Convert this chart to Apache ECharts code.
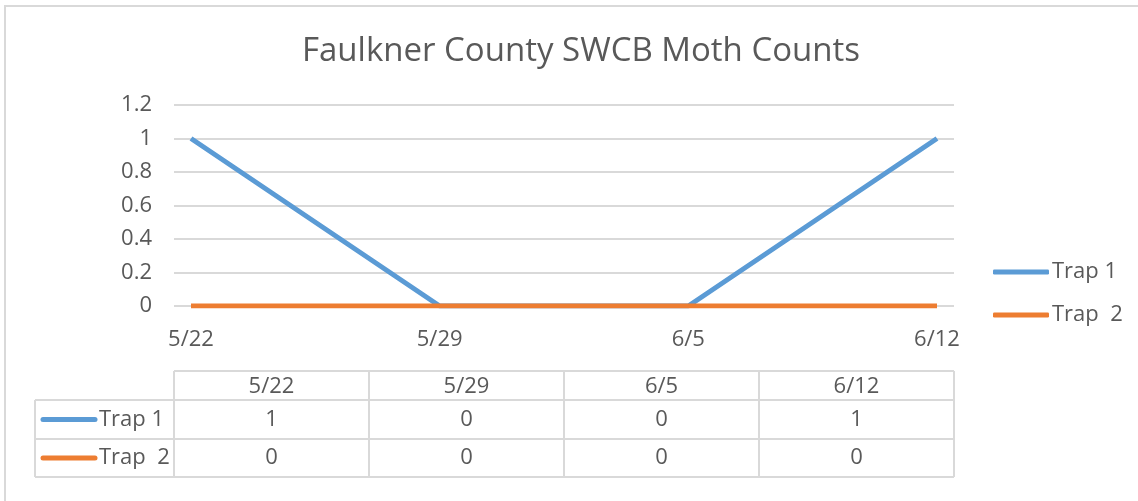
<!DOCTYPE html>
<html>
<head>
<meta charset="utf-8">
<script src="https://cdn.jsdelivr.net/npm/echarts@6/dist/echarts.min.js"></script>
<style>
html,body{margin:0;padding:0;background:#fff;}
#chart{width:1138px;height:501px;}
</style>
</head>
<body>
<div id="chart"></div>
<script>
var title = 'Faulkner County SWCB Moth Counts';
var categories = ['5/22', '5/29', '6/5', '6/12'];
var seriesNames = ['Trap 1', 'Trap  2'];
var trap1 = [1, 0, 0, 1];
var trap2 = [0, 0, 0, 0];
var colors = ['#5b9bd5', '#ed7d31'];

var FONT = 'Open Sans';
var TXT = '#595959';
var GRIDC = '#d9d9d9';
var FS = 22;

var chart = echarts.init(document.getElementById('chart'));

var seriesData = [trap1, trap2];
var tLeft = 35, tColL = 174, tRight = 954, colW = (tRight - tColL) / categories.length;
var rowY = [371, 400, 439, 477];
var g = [];
function line(x1, y1, x2, y2) {
  g.push({type: 'line', shape: {x1: x1, y1: y1, x2: x2, y2: y2}, style: {stroke: GRIDC, lineWidth: 2}, silent: true});
}
g.push({type: 'rect', shape: {x: 5, y: 6, width: 1140, height: 500}, style: {fill: null, stroke: GRIDC, lineWidth: 2}, silent: true});
line(tColL, rowY[0], tRight, rowY[0]);
for (var r = 1; r < rowY.length; r++) line(tLeft, rowY[r], tRight, rowY[r]);
line(tLeft, rowY[1], tLeft, rowY[3]);
for (var c = 0; c <= categories.length; c++) line(tColL + c * colW, rowY[0], tColL + c * colW, rowY[3]);
categories.forEach(function (cat, i) {
  g.push({type: 'text', x: tColL + (i + 0.5) * colW, y: (rowY[0] + rowY[1]) / 2 + 1,
    style: {text: cat, font: FS + 'px "' + FONT + '"', fill: TXT, textAlign: 'center', textVerticalAlign: 'middle'}, silent: true});
});
seriesNames.forEach(function (name, s) {
  var cy = (rowY[s + 1] + rowY[s + 2]) / 2;
  g.push({type: 'line', shape: {x1: 43, y1: cy, x2: 95, y2: cy}, style: {stroke: colors[s], lineWidth: 5, lineCap: 'round'}, silent: true});
  g.push({type: 'text', x: 99, y: cy, style: {text: name, font: FS + 'px "' + FONT + '"', fill: TXT, textAlign: 'left', textVerticalAlign: 'middle'}, silent: true});
  seriesData[s].forEach(function (v, i) {
    g.push({type: 'text', x: tColL + (i + 0.5) * colW, y: cy,
      style: {text: String(v), font: FS + 'px "' + FONT + '"', fill: TXT, textAlign: 'center', textVerticalAlign: 'middle'}, silent: true});
  });
});
// title as centred text at the reference position
g.push({type: 'text', x: 581, y: 52, style: {text: title, font: '33px "' + FONT + '"', fill: TXT, textAlign: 'center', textVerticalAlign: 'middle'}, silent: true});

var option = {
  animation: false,
  backgroundColor: '#fff',
  legend: {
    orient: 'vertical', left: 988, top: 256,
    itemWidth: 56, itemHeight: 5, itemGap: 21, icon: 'roundRect',
    textStyle: {fontFamily: FONT, fontSize: FS, color: TXT, padding: [0, 0, 0, -2]},
    data: seriesNames
  },
  grid: [
    {left: 174, right: 184, top: 105, bottom: 195},
    {left: 191, right: 201, top: 105, bottom: 195}
  ],
  xAxis: [
    {type: 'category', gridIndex: 0, data: categories, boundaryGap: false, show: false},
    {type: 'category', gridIndex: 1, data: categories, boundaryGap: false,
      axisLine: {show: false}, axisTick: {show: false},
      axisLabel: {fontFamily: FONT, fontSize: FS, color: TXT, margin: 23}}
  ],
  yAxis: [
    {type: 'value', gridIndex: 0, min: 0, max: 1.2, interval: 0.2,
      axisLine: {show: false}, axisTick: {show: false},
      axisLabel: {fontFamily: FONT, fontSize: FS, color: TXT, margin: 22,
        formatter: function (v) { return String(Math.round(v * 10) / 10); }},
      splitLine: {lineStyle: {color: GRIDC, width: 2}}},
    {type: 'value', gridIndex: 1, min: 0, max: 1.2, interval: 0.2, show: false, splitLine: {show: false}}
  ],
  series: [
    {name: seriesNames[0], type: 'line', xAxisIndex: 1, yAxisIndex: 1, data: trap1,
      symbol: 'none', lineStyle: {color: colors[0], width: 5}, itemStyle: {color: colors[0]}, z: 3},
    {name: seriesNames[1], type: 'line', xAxisIndex: 1, yAxisIndex: 1, data: trap2,
      symbol: 'none', lineStyle: {color: colors[1], width: 5}, itemStyle: {color: colors[1]}, z: 4}
  ],
  graphic: g
};
chart.setOption(option);
</script>
</body>
</html>
